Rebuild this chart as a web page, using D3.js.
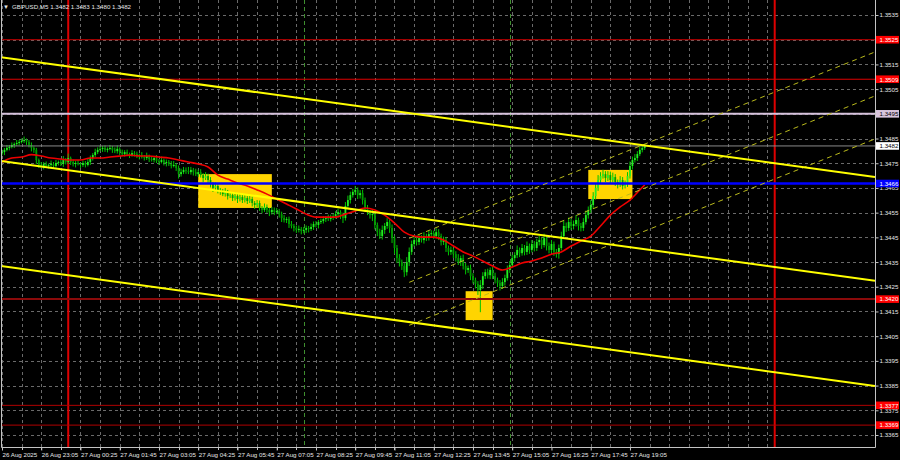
<!DOCTYPE html>
<html><head><meta charset="utf-8">
<script src="https://cdn.jsdelivr.net/npm/d3@7"></script>
<style>
html,body{margin:0;padding:0;background:#000;}
svg{display:block;}
text{font-family:"Liberation Sans",Arial,sans-serif;}
</style>
</head><body>
<svg id="c" width="900" height="460"></svg>
<script>
// ---------------- DATA ----------------
const symbol = "GBPUSD,M5";
const headerOHLC = ["1.3482", "1.3483", "1.3480", "1.3482"];
const startTime = "2025-08-26 21:45";   // first M5 bar
const firstOpen = 1.34790;
const closes = [
 1.34795,1.34804,1.34812,
 1.34816,1.34824,1.34828,1.34832,1.34836,1.34840,1.34844,1.34836,1.34824,1.34812,1.34804,1.34763,
 1.34743,1.34739,1.34747,1.34739,1.34743,1.34747,1.34739,1.34751,1.34755,1.34747,1.34763,1.34755,
 1.34771,1.34755,1.34747,1.34751,1.34747,1.34743,1.34751,1.34743,1.34755,1.34771,1.34783,1.34795,
 1.34804,1.34808,1.34812,1.34804,1.34808,1.34812,1.34804,1.34799,1.34808,1.34795,1.34787,1.34795,
 1.34787,1.34783,1.34791,1.34787,1.34779,1.34783,1.34775,1.34771,1.34779,1.34767,1.34763,1.34771,
 1.34759,1.34755,1.34763,1.34751,1.34755,1.34747,1.34739,1.34743,1.34731,1.34706,1.34714,1.34723,
 1.34719,1.34714,1.34723,1.34714,1.34706,1.34714,1.34702,1.34690,1.34698,1.34682,1.34666,1.34650,
 1.34658,1.34642,1.34634,1.34625,1.34634,1.34617,1.34621,1.34609,1.34617,1.34605,1.34613,1.34601,
 1.34609,1.34597,1.34605,1.34589,1.34581,1.34589,1.34569,1.34561,1.34573,1.34561,1.34552,1.34561,
 1.34552,1.34557,1.34544,1.34528,1.34520,1.34524,1.34504,1.34496,1.34488,1.34480,1.34484,1.34476,
 1.34480,1.34488,1.34484,1.34492,1.34504,1.34500,1.34512,1.34516,1.34524,1.34528,1.34524,1.34532,
 1.34536,1.34544,1.34552,1.34540,1.34528,1.34577,1.34601,1.34621,1.34634,1.34642,1.34621,1.34629,
 1.34601,1.34569,1.34552,1.34540,1.34544,1.34500,1.34471,1.34455,1.34480,1.34496,1.34512,1.34488,
 1.34447,1.34407,1.34366,1.34350,1.34334,1.34309,1.34350,1.34391,1.34423,1.34439,1.34431,1.34447,
 1.34439,1.34455,1.34447,1.34463,1.34467,1.34455,1.34471,1.34455,1.34431,1.34439,1.34407,1.34391,
 1.34399,1.34382,1.34366,1.34350,1.34366,1.34334,1.34318,1.34326,1.34293,1.34277,1.34261,1.34237,
 1.34257,1.34293,1.34309,1.34297,1.34318,1.34293,1.34277,1.34265,1.34253,1.34269,1.34285,1.34318,
 1.34338,1.34366,1.34378,1.34399,1.34386,1.34407,1.34391,1.34415,1.34399,1.34423,1.34407,1.34431,
 1.34439,1.34419,1.34447,1.34415,1.34399,1.34423,1.34391,1.34382,1.34407,1.34455,1.34496,1.34488,
 1.34512,1.34496,1.34504,1.34520,1.34496,1.34488,1.34512,1.34540,1.34561,1.34581,1.34617,1.34650,
 1.34682,1.34698,1.34706,1.34690,1.34702,1.34682,1.34694,1.34674,1.34666,1.34682,1.34658,1.34666,
 1.34698,1.34739,1.34763,1.34771,1.34787,1.34804,1.34812,1.34820
];
// wick lengths in pips beyond the body
const upWick = [
 1.0,0.8,1.2,
 0.8,1.0,0.6,1.2,0.8,1.0,1.4,0.6,0.8,1.0,0.6,0.8,
 0.6,1.2,0.8,1.0,0.6,1.4,0.8,1.2,0.6,1.0,1.6,0.8,
 1.8,0.6,1.0,0.8,1.2,0.6,1.0,0.8,1.2,1.0,0.8,1.4,
 1.0,1.2,0.8,1.0,0.6,1.2,0.8,1.0,1.4,0.6,1.0,0.8,
 1.0,0.6,1.2,0.8,1.0,0.6,1.2,0.8,1.4,0.6,1.0,0.8,
 1.2,0.8,1.4,0.6,1.0,0.8,1.2,1.6,0.8,1.0,1.4,1.2,
 1.0,1.6,1.2,0.8,1.4,1.0,1.2,0.8,1.6,1.0,1.2,0.8,
 1.4,1.0,0.8,1.2,1.6,0.8,1.2,1.0,1.4,0.8,1.2,1.0,
 1.2,0.8,1.4,1.0,0.8,1.2,1.0,0.8,1.4,1.0,0.8,1.2,
 1.0,1.2,0.8,1.0,1.2,0.8,1.0,1.2,0.8,1.0,1.4,0.8,
 1.2,1.0,0.8,1.4,1.0,1.2,0.8,1.0,1.2,0.8,1.4,1.0,
 1.0,1.2,1.4,0.8,1.0,1.6,1.8,1.4,1.2,1.6,1.0,1.2,
 1.4,1.0,1.2,0.8,1.6,1.2,1.0,1.4,1.8,1.2,1.6,1.0,
 1.4,1.0,1.2,1.6,1.0,1.2,2.0,1.8,1.4,1.6,1.2,1.4,
 1.2,1.6,1.0,1.4,1.2,1.0,1.6,1.2,1.0,1.4,1.2,1.0,
 1.4,1.0,1.2,1.6,1.0,1.4,1.2,1.0,1.4,1.2,1.0,1.2,
 2.0,1.6,1.2,1.4,1.0,1.2,1.4,1.0,1.2,1.6,1.4,1.8,
 1.6,1.4,1.2,1.8,1.0,1.6,1.2,1.8,1.0,1.6,1.2,1.4,
 1.6,1.2,1.8,1.0,1.4,1.6,1.0,1.2,1.4,1.8,2.0,1.4,
 1.8,1.2,1.4,2.0,1.0,1.2,1.6,1.8,1.4,2.0,1.6,1.8,
 2.0,1.6,1.8,1.2,1.6,1.4,1.8,1.2,1.0,1.6,1.2,1.4,
 1.6,1.8,1.4,1.6,1.2,1.4,1.0,0.8
];
const downWick = [
 0.8,1.2,0.6,
 1.0,0.6,1.2,0.8,1.0,0.6,0.8,1.2,1.0,1.4,1.2,1.6,
 1.2,0.8,1.4,0.6,1.0,0.8,1.2,0.6,1.0,0.8,1.2,1.0,
 0.8,1.2,1.0,1.4,0.6,1.2,0.8,1.0,0.6,1.2,1.0,0.8,
 0.8,0.6,1.2,0.8,1.0,0.6,1.2,0.8,1.0,1.2,0.8,1.0,
 0.8,1.2,0.6,1.0,0.8,1.4,0.6,1.0,0.8,1.2,0.6,1.0,
 0.8,1.2,0.6,1.0,1.4,0.8,1.0,0.6,1.2,1.8,1.0,0.8,
 1.2,0.8,1.0,1.4,0.8,1.2,1.0,1.6,0.8,1.2,1.4,1.6,
 1.0,1.4,1.2,0.8,1.0,1.4,0.8,1.2,1.0,1.6,1.0,1.2,
 1.0,1.2,0.8,1.4,1.6,1.0,1.2,1.4,0.8,1.2,1.6,1.0,
 1.2,0.8,1.4,1.6,1.0,1.2,1.6,1.0,1.4,1.2,1.0,1.4,
 1.0,1.2,1.4,0.8,1.2,1.0,1.4,0.8,1.0,1.2,0.8,1.0,
 1.2,1.0,1.4,1.6,2.0,1.0,1.2,1.4,1.0,1.2,1.6,1.4,
 1.8,1.6,1.2,1.4,2.4,1.8,1.6,1.2,1.4,1.6,1.2,2.0,
 2.0,2.4,2.0,1.8,1.6,2.0,1.4,1.6,1.2,1.0,1.4,1.2,
 1.0,1.4,1.2,1.0,1.4,1.2,1.0,1.6,1.4,1.2,1.6,1.4,
 1.2,1.6,1.4,1.2,1.6,1.4,1.8,1.2,1.6,1.4,1.8,2.0,
 9.0,1.6,1.2,1.4,1.6,1.2,1.4,1.6,1.8,1.2,1.4,1.0,
 1.2,1.0,1.4,1.2,1.6,1.0,1.4,1.2,1.6,1.0,1.4,1.2,
 1.4,1.6,1.0,1.8,1.4,1.2,1.6,1.4,1.8,1.0,1.2,1.6,
 1.2,1.6,1.4,1.0,1.8,1.4,1.2,1.0,1.4,1.2,1.6,1.4,
 1.2,1.4,1.0,1.6,1.2,1.4,1.0,1.6,1.8,1.2,1.4,1.0,
 1.2,1.0,1.4,1.0,1.2,0.8,1.0,0.8
];
// moving average (red), read every 4 bars, last value at the last bar
const maEvery = 4;
const maValues = [
 1.34755,1.34771,1.34775,1.34785,1.34779,1.34771,1.34767,1.34763,1.34763,1.34771,
 1.34771,1.34775,1.34779,1.34783,1.34779,1.34779,1.34775,1.34771,1.34763,1.34755,
 1.34747,1.34735,1.34702,1.34686,1.34670,1.34658,1.34642,1.34625,1.34605,1.34585,
 1.34565,1.34544,1.34532,1.34532,1.34532,1.34544,1.34557,1.34569,1.34561,1.34540,
 1.34508,1.34471,1.34455,1.34451,1.34451,1.34439,1.34415,1.34391,1.34374,1.34354,
 1.34334,1.34318,1.34330,1.34346,1.34354,1.34366,1.34382,1.34391,1.34415,1.34435,
 1.34455,1.34496,1.34540,1.34573,1.34601,1.34642,1.34662
];
const priceTicks = [1.3365,1.3375,1.3385,1.3395,1.3405,1.3415,1.3425,1.3435,1.3445,
                    1.3455,1.3465,1.3475,1.3485,1.3495,1.3505,1.3515,1.3525,1.3535];
const timeLabelTimes = ["2025-08-26 21:45","2025-08-26 23:05","2025-08-27 00:25","2025-08-27 01:45",
 "2025-08-27 03:05","2025-08-27 04:25","2025-08-27 05:45","2025-08-27 07:05","2025-08-27 08:25",
 "2025-08-27 09:45","2025-08-27 11:05","2025-08-27 12:25","2025-08-27 13:45","2025-08-27 15:05",
 "2025-08-27 16:25","2025-08-27 17:45","2025-08-27 19:05"];
const timeLabels = ["26 Aug 2025","26 Aug 23:05","27 Aug 00:25","27 Aug 01:45","27 Aug 03:05",
 "27 Aug 04:25","27 Aug 05:45","27 Aug 07:05","27 Aug 08:25","27 Aug 09:45","27 Aug 11:05",
 "27 Aug 12:25","27 Aug 13:45","27 Aug 15:05","27 Aug 16:25","27 Aug 17:45","27 Aug 19:05"];
// horizontal levels
const levelPrices = [1.3525, 1.3509, 1.3495, 1.3482, 1.34668, 1.3420, 1.3377, 1.3369];
const levelLabels = ["1.3525","1.3509","1.3495","1.3482","1.3466","1.3420","1.3377","1.3369"];
// vertical markers
const dayLines = ["2025-08-27 00:00","2025-08-28 00:00"];
const sessionLines = ["2025-08-27 08:00","2025-08-27 15:00"];
// rectangles
const boxStart = ["2025-08-27 04:25","2025-08-27 13:30","2025-08-27 17:40"];
const boxEnd   = ["2025-08-27 06:55","2025-08-27 14:25","2025-08-27 19:10"];
const boxTop   = [1.34706, 1.34232, 1.34723];
const boxBottom= [1.34569, 1.34115, 1.34605];
// trend channel (solid), two anchor points each
const trendT1 = "2025-08-27 00:00", trendT2 = "2025-08-28 00:00";
const trendP1 = [1.35142, 1.34722, 1.34297];
const trendP2 = [1.34750, 1.34330, 1.33904];
// rising channel (dashed)
const chanT1 = "2025-08-27 11:35", chanT2 = "2025-08-28 00:00";
const chanP1 = [1.34446, 1.34268, 1.34094];
const chanP2 = [1.35038, 1.34860, 1.34686];

// ---------------- STYLE ----------------
const levelStroke = ["#c80000","#e00000","#d6c2dc","#8a8a8a","#0000ff","#8b0a0a","#b00000","#b00000"];
const levelWidth  = [1, 1, 2, 1, 2.5, 2, 1, 1];
const labelFill   = ["#ff0000","#ff0000","#d8c4dc","#ffffff","#0000ff","#ff0000","#ff0000","#ff0000"];
const labelText   = ["#ffffff","#ffffff","#000000","#000000","#ffffff","#ffffff","#ffffff","#ffffff"];
const PL = 1, PR = 875, PT = 0, PB = 447;

// ---------------- DRAW ----------------
const parse = d3.timeParse("%Y-%m-%d %H:%M");
const t0 = parse(startTime);
const barTime = i => d3.timeMinute.offset(t0, 5 * i);
const x = d3.scaleTime().domain([t0, barTime(closes.length - 1)]).range([2, 644.7]);
const y = d3.scaleLinear().domain([1.3365, 1.3535]).range([435, 15]);

const svg = d3.select("#c");
svg.append("rect").attr("width", 900).attr("height", 460).attr("fill", "#000");
svg.append("defs").append("clipPath").attr("id", "plot")
  .append("rect").attr("x", PL).attr("y", PT).attr("width", PR - PL).attr("height", PB - PT);
const g = svg.append("g").attr("clip-path", "url(#plot)");

// grid
const gridG = g.append("g").attr("stroke", "#6a6a6a").attr("stroke-width", 1).attr("stroke-dasharray", "3,3");
gridG.selectAll("line.h").data(priceTicks).join("line")
  .attr("x1", PL).attr("x2", PR).attr("y1", d => Math.round(y(d)) + 0.5).attr("y2", d => Math.round(y(d)) + 0.5);
const gridTimes = d3.range(0, 40).map(k => d3.timeMinute.offset(t0, 40 * k));
gridG.selectAll("line.v").data(gridTimes).join("line")
  .attr("y1", PT).attr("y2", PB).attr("x1", d => Math.round(x(d)) + 0.5).attr("x2", d => Math.round(x(d)) + 0.5);

// rectangles (background)
g.append("g").selectAll("rect").data(boxStart).join("rect")
  .attr("x", (d, i) => x(parse(d)))
  .attr("width", (d, i) => x(parse(boxEnd[i])) - x(parse(d)))
  .attr("y", (d, i) => y(boxTop[i]))
  .attr("height", (d, i) => y(boxBottom[i]) - y(boxTop[i]))
  .attr("fill", "#ffd400");

// session lines
g.append("g").selectAll("line").data(sessionLines).join("line")
  .attr("x1", d => Math.round(x(parse(d))) + 0.5).attr("x2", d => Math.round(x(parse(d))) + 0.5)
  .attr("y1", PT).attr("y2", PB)
  .attr("stroke", "#3f8f2f").attr("stroke-width", 1).attr("stroke-dasharray", "4,3");

// day lines
g.append("g").selectAll("line").data(dayLines).join("line")
  .attr("x1", d => x(parse(d))).attr("x2", d => x(parse(d)))
  .attr("y1", PT).attr("y2", PB)
  .attr("stroke", "#dd0000").attr("stroke-width", 2);

// candles
const bars = closes.map((c, i) => {
  const o = i ? closes[i - 1] : firstOpen;
  return { t: barTime(i), o, c, h: Math.max(o, c) + upWick[i] * 1e-4, l: Math.min(o, c) - downWick[i] * 1e-4 };
});
const cg = g.append("g");
cg.selectAll("line").data(bars).join("line")
  .attr("x1", d => x(d.t)).attr("x2", d => x(d.t))
  .attr("y1", d => y(d.h)).attr("y2", d => y(d.l))
  .attr("stroke", "#00c400").attr("stroke-width", 1);
cg.selectAll("rect").data(bars).join("rect")
  .attr("x", d => x(d.t) - 0.9).attr("width", 1.8)
  .attr("y", d => Math.min(y(d.o), y(d.c)))
  .attr("height", d => Math.max(1, Math.abs(y(d.o) - y(d.c))))
  .attr("fill", d => d.c >= d.o ? "#22ee22" : "#009c00");

// moving average
const maPts = maValues.map((v, k) => [x(barTime(Math.min(k * maEvery, closes.length - 1))), y(v)]);
g.append("path").attr("d", d3.line().curve(d3.curveMonotoneX)(maPts))
  .attr("fill", "none").attr("stroke", "#ee0000").attr("stroke-width", 1.6);

// horizontal levels
g.append("g").selectAll("line").data(levelPrices).join("line")
  .attr("x1", PL).attr("x2", PR)
  .attr("y1", d => y(d)).attr("y2", d => y(d))
  .attr("stroke", (d, i) => levelStroke[i]).attr("stroke-width", (d, i) => levelWidth[i]);

// trend lines
function extended(tA, pA, tB, pB, fromX, toX) {
  const xa = x(parse(tA)), ya = y(pA), xb = x(parse(tB)), yb = y(pB);
  const s = (yb - ya) / (xb - xa);
  return [[fromX, ya + s * (fromX - xa)], [toX, ya + s * (toX - xa)]];
}
const lineGen = d3.line();
g.append("g").selectAll("path").data(chanP1).join("path")
  .attr("d", (d, i) => lineGen(extended(chanT1, d, chanT2, chanP2[i], x(parse(chanT1)), PR)))
  .attr("fill", "none").attr("stroke", "#b9b91c").attr("stroke-width", 1).attr("stroke-dasharray", "5,4");
g.append("g").selectAll("path").data(trendP1).join("path")
  .attr("d", (d, i) => lineGen(extended(trendT1, d, trendT2, trendP2[i], PL - 2, PR)))
  .attr("fill", "none").attr("stroke", "#ffff00").attr("stroke-width", 2);

// frame
svg.append("path").attr("d", `M${PL + 0.5},${PT} V${PB + 0.5} H${PR + 0.5} V${PT}`)
  .attr("fill", "none").attr("stroke", "#c4c4c4").attr("stroke-width", 1);

// right axis
const ax = svg.append("g").attr("transform", `translate(${PR + 0.5},0)`)
  .call(d3.axisRight(y).tickValues(priceTicks).tickFormat(d3.format(".4f")).tickSize(3).tickPadding(1));
ax.select(".domain").remove();
ax.selectAll("line").attr("stroke", "#c4c4c4");
ax.selectAll("text").attr("fill", "#e6e6e6").attr("font-size", 6.2).attr("font-family", "Liberation Sans, Arial, sans-serif");

// level labels
const lab = svg.append("g").selectAll("g").data(levelPrices).join("g")
  .attr("transform", d => `translate(${PR + 1},${y(d)})`);
lab.append("rect").attr("x", 0).attr("y", -3.8).attr("width", 23).attr("height", 7.6)
  .attr("fill", (d, i) => labelFill[i]);
lab.append("text").attr("x", 3.5).attr("y", 2.3).attr("font-size", 6.2)
  .attr("fill", (d, i) => labelText[i]).text((d, i) => levelLabels[i]);

// bottom axis
const minorTicks = d3.range(0, 28).map(k => d3.timeMinute.offset(t0, 40 * k));
svg.append("g").selectAll("line").data(minorTicks).join("line")
  .attr("x1", d => Math.round(x(d)) + 0.5).attr("x2", d => Math.round(x(d)) + 0.5)
  .attr("y1", PB).attr("y2", PB + 3).attr("stroke", "#c4c4c4");
const bx = svg.append("g").attr("transform", `translate(0,${PB + 0.5})`)
  .call(d3.axisBottom(x).tickValues(timeLabelTimes.map(parse)).tickFormat((d, i) => timeLabels[i]).tickSize(3).tickPadding(2));
bx.select(".domain").remove();
bx.selectAll("line").attr("stroke", "#c4c4c4");
bx.selectAll("text").attr("fill", "#e6e6e6").attr("font-size", 6.2).attr("text-anchor", "start")
  .attr("font-family", "Liberation Sans, Arial, sans-serif");

// header
svg.append("text").attr("x", 3).attr("y", 8.5).attr("font-size", 6).attr("fill", "#e6e6e6").text("▼");
svg.append("text").attr("x", 12).attr("y", 8.5).attr("font-size", 6.2).attr("fill", "#e6e6e6")
  .text(symbol + "  " + headerOHLC.join(" "));
</script>
</body></html>
